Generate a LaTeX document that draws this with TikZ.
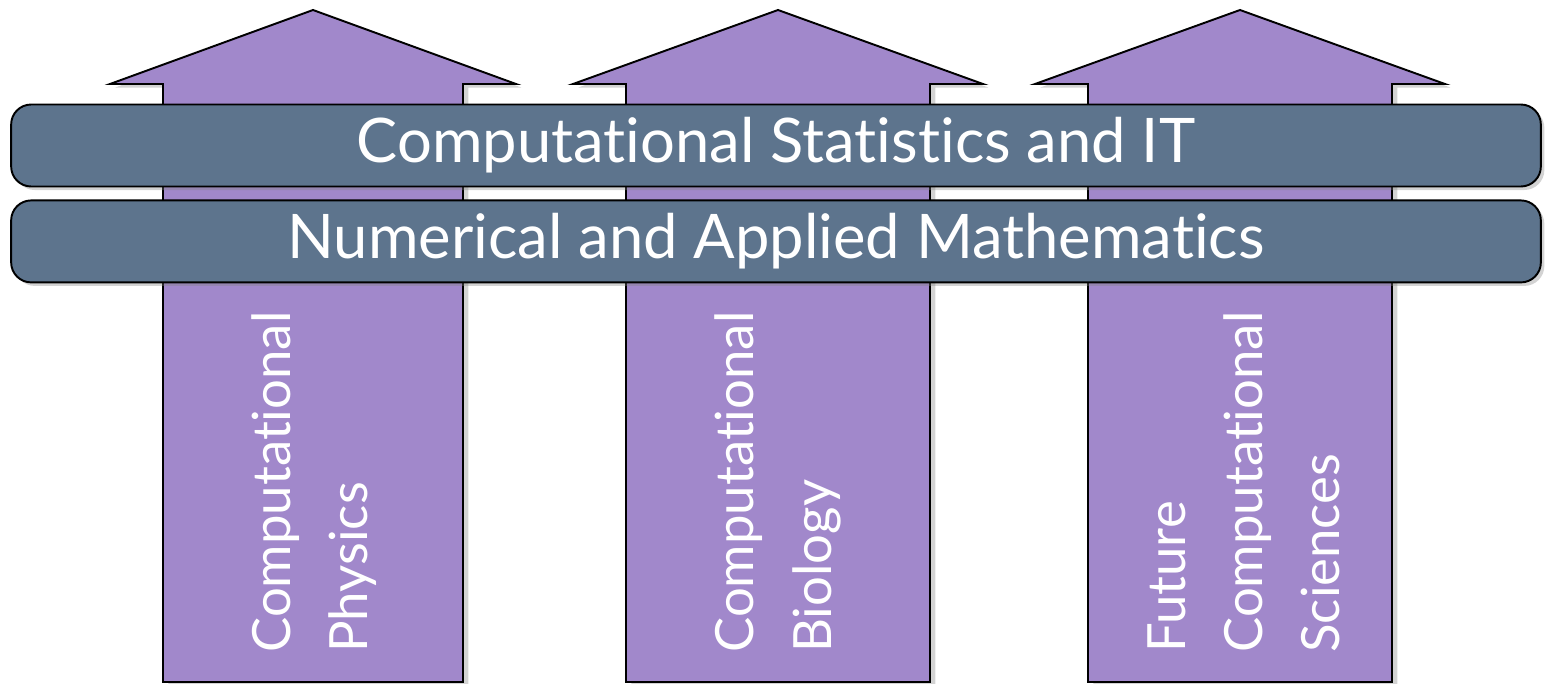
\documentclass[tikz,border=0pt]{standalone}
\usepackage{fontspec}
\setmainfont{Lato}[Ligatures=NoCommon]
\usetikzlibrary{positioning}
\usetikzlibrary{shadows}

\definecolor{pillar}{RGB}{161,136,203}
\definecolor{slate}{RGB}{93,116,141}

\tikzset{
    pillar/.style={fill=pillar, draw=black, line width=1.1pt, line join=miter, drop shadow={shadow xshift=3pt, shadow yshift=-2pt, opacity=0.35}},
    band/.style={rectangle, rounded corners=0.4cm, fill=slate, draw=black, line width=1.1pt, minimum width=30.6cm, minimum height=1.64cm, text=white, font=\fontsize{35}{40}\selectfont, drop shadow={shadow xshift=2pt, shadow yshift=-2pt, opacity=0.35}},
    collabel/.style={rotate=90, anchor=west, align=left, inner sep=0pt, text=white, font=\fontsize{30}{44}\selectfont}
}

\begin{document}
\begin{tikzpicture}[x=0.02cm, y=-0.02cm]
    \useasboundingbox (0,0) rectangle (1545,683);

    \draw [pillar] (163,682) -- (163,84) -- (110,84) -- (313,10) -- (516,84) -- (463,84) -- (463,682) -- cycle;
    \draw [pillar] (626,682) -- (626,84) -- (573,84) -- (778,10) -- (983,84) -- (930,84) -- (930,682) -- cycle;
    \draw [pillar] (1088,682) -- (1088,84) -- (1035,84) -- (1240,10) -- (1445,84) -- (1392,84) -- (1392,682) -- cycle;

    \node [collabel] (physics) at (314,653) {Computational\\Physics};
    \node [collabel] (biology) at (778,653) {Computational\\Biology};
    \node [collabel] (future) at (1244,653) {Future\\Computational\\Sciences};

    \node [band] (stats) at (776,145.5) {Computational Statistics and IT};
    \node [band, below=0.24cm of stats] (maths) {Numerical and Applied Mathematics};
\end{tikzpicture}
\end{document}
